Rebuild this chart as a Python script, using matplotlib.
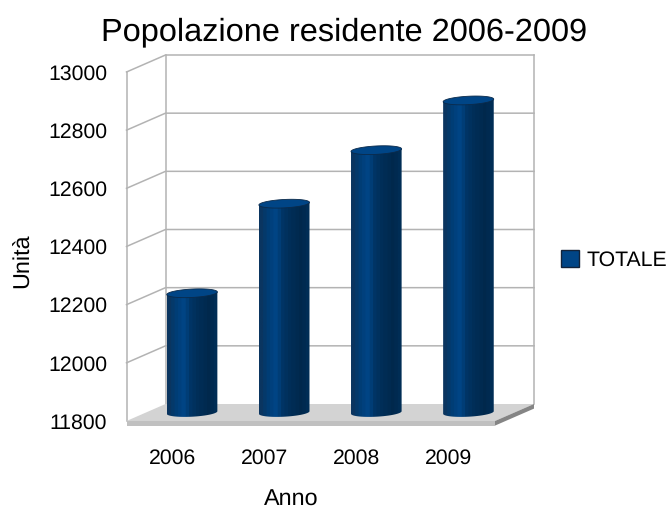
#!/usr/bin/env python3
"""Popolazione residente 2006-2009: pseudo 3D cylinder chart."""

import numpy as np
import matplotlib
matplotlib.use("Agg")
import matplotlib.pyplot as plt
from matplotlib.colors import LinearSegmentedColormap
from matplotlib.patches import Patch, Polygon

plt.rcParams["font.family"] = ["Liberation Sans", "DejaVu Sans"]
plt.rcParams["text.hinting"] = "none"

years = ["2006", "2007", "2008", "2009"]
totale = [12210, 12518, 12702, 12873]
y_ticks = [11800, 12000, 12200, 12400, 12600, 12800, 13000]

W, H = 669, 511
GRID = "#b3b3b3"
BLUE = "#004586"

fig = plt.figure(figsize=(W / 100, H / 100), dpi=100)
# axes is the front plane of the 3D box
left, right, top, bottom = 126.5, 495.0, 72.0, 421.0
ax = fig.add_axes([left / W, 1 - bottom / H, (right - left) / W, (bottom - top) / H])
ax.set_xlim(-0.5, 3.5)
ax.set_ylim(11800, 13000)

# depth of the box, in data units
px_x = 4.0 / (right - left)
px_y = 1200.0 / (bottom - top)
DX = 39 * px_x
DY = 17 * px_y
x0, x1 = ax.get_xlim()
y0, y1 = ax.get_ylim()

# walls and grid, the lowest level is hidden by the floor
for v in y_ticks[1:]:
    ax.plot([x0, x0 + DX, x1 + DX], [v, v + DY, v + DY], color=GRID, lw=1.1,
            clip_on=False, zorder=1, solid_joinstyle="miter")
ax.plot([x0, x0], [y0, y1], color=GRID, lw=1.1, clip_on=False, zorder=1)
ax.plot([x0 + DX] * 2, [y0 + DY, y1 + DY], color=GRID, lw=1.1, clip_on=False, zorder=1)
ax.plot([x1 + DX] * 2, [y0 + DY, y1 + DY], color=GRID, lw=1.1, clip_on=False, zorder=1)

# floor
ax.add_patch(Polygon([(x0, y0), (x0 + DX, y0 + DY), (x1 + DX, y0 + DY), (x1, y0)],
                     fc="#d3d3d3", ec="none", clip_on=False, zorder=2))
slab = 4.6 * px_y
ax.add_patch(Polygon([(x0, y0), (x1, y0), (x1, y0 - slab), (x0, y0 - slab)],
                     fc="#c0c0c0", ec="none", clip_on=False, zorder=2))
ax.add_patch(Polygon([(x1, y0), (x1 + DX, y0 + DY), (x1 + DX, y0 + DY - slab), (x1, y0 - slab)],
                     fc="#858585", ec="none", clip_on=False, zorder=2))

# cylinders, half way into the box
shade = LinearSegmentedColormap.from_list(
    "shade",
    [(0.0, "#0a3560"), (0.15, "#003d75"), (0.32, "#004586"), (0.45, "#003566"),
     (0.62, "#002e58"), (0.85, "#00284c"), (1.0, "#002d55")],
    N=14,
)
half_w = 25.3 * px_x
half_h = 4.2 * px_y
tilt = 1.3 * px_y
t = np.linspace(0, 2 * np.pi, 80)
for i, value in enumerate(totale):
    cx = i + DX / 2
    base = y0 + DY / 2
    top_y = value + DY / 2
    ex = cx + half_w * np.cos(t)
    low = np.linspace(0, np.pi, 40) + np.pi
    body = list(zip(cx + half_w * np.cos(low), base + half_h * np.sin(low) + tilt * np.cos(low)))
    body += [(cx + half_w, top_y + tilt), (cx - half_w, top_y - tilt)]
    clip = Polygon(body, fc="none", ec="none", transform=ax.transData, clip_on=False)
    ax.add_patch(clip)
    im = ax.imshow(np.linspace(0, 1, 60)[None, :], cmap=shade, aspect="auto", zorder=3,
                   extent=[cx - half_w, cx + half_w, base - 2 * half_h, top_y + half_h])
    im.set_clip_path(clip)
    cap = Polygon(list(zip(ex, top_y + half_h * np.sin(t) + tilt * np.cos(t))),
                  fc=BLUE, ec="#0b2a4a", lw=0.6, clip_on=False, zorder=4)
    ax.add_patch(cap)
ax.set_xlim(x0, x1)
ax.set_ylim(y0, y1)

for side in ax.spines.values():
    side.set_visible(False)
ax.patch.set_alpha(0)
ax.set_xticks(range(len(years)), years)
ax.set_yticks(y_ticks)
ax.tick_params(axis="both", length=0, labelsize=15.3, colors="black")
ax.tick_params(axis="y", pad=14)
ax.tick_params(axis="x", pad=20)

fig.text(344.5 / W, 1 - 32 / H, "Popolazione residente 2006-2009", fontsize=23.4,
         ha="center", va="center")
fig.text(291 / W, 1 - 499.5 / H, "Anno", fontsize=16.8, ha="center", va="center")
fig.text(23 / W, 1 - 261 / H, "Unità", fontsize=16.8, rotation=90, ha="center", va="center")

ax.legend(handles=[Patch(fc=BLUE, ec="#12233a", lw=1.0, label="TOTALE")],
          loc="center left", bbox_to_anchor=(560.5 / W, 1 - 260 / H),
          bbox_transform=fig.transFigure, frameon=False, fontsize=15.3,
          handlelength=0.85, handleheight=0.85, handletextpad=0.36,
          borderpad=0, borderaxespad=0)

fig.savefig("out.png", dpi=100)
